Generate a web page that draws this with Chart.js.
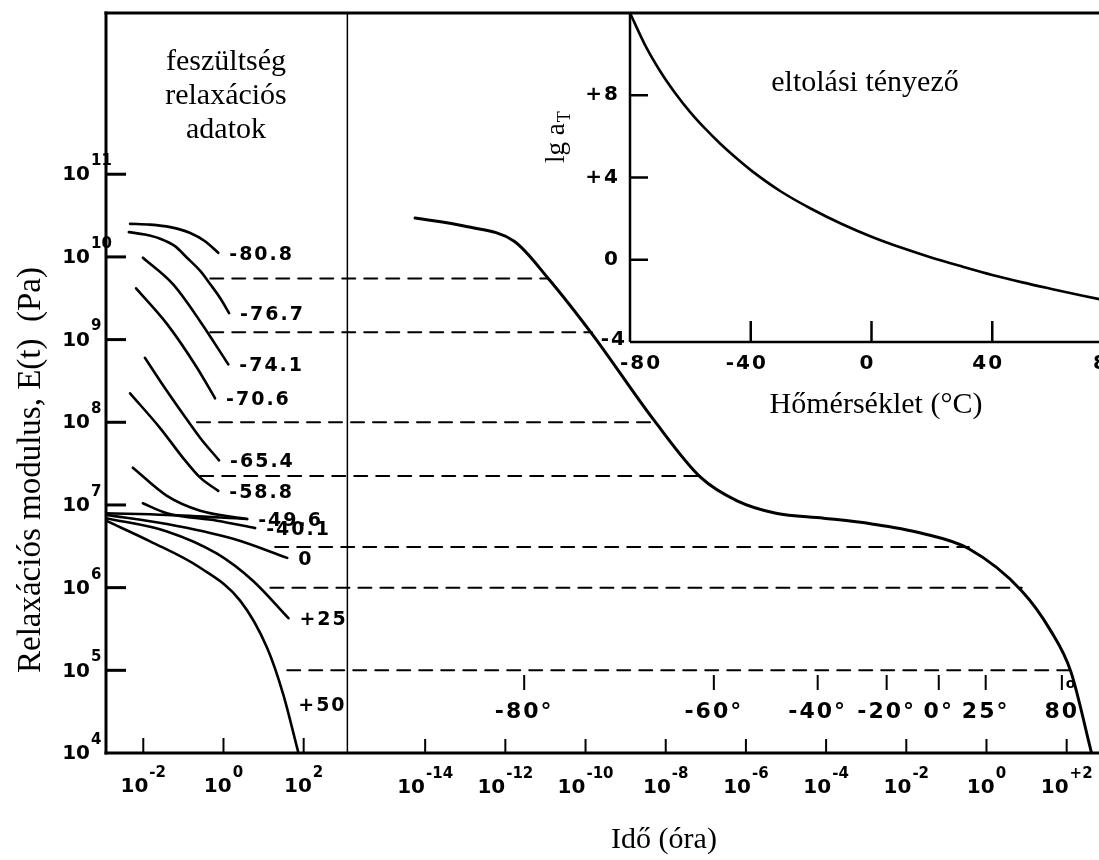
<!DOCTYPE html>
<html>
<head>
<meta charset="utf-8">
<title>Feszültség relaxáció - mestergörbe</title>
<script src="https://cdn.jsdelivr.net/npm/chart.js@4.4.0/dist/chart.umd.min.js"></script>
<style>
    html, body {
        margin: 0;
        padding: 0;
        width: 1099px;
        height: 860px;
        overflow: hidden;
        background: #fff;
    }
    #main { position: absolute; left: 0; top: 0; }
    #inset { position: absolute; left: 500px; top: 0; }
</style>
</head>
<body>
<canvas id="main" width="1130" height="860"></canvas>
<canvas id="inset" width="640" height="440"></canvas>
<script>

// left panel: measured relaxation curves, [lg t, lg E]
var curveNames = ['-80.8', '-76.7', '-74.1', '-70.6', '-65.4', '-58.8', '-49.6', '-40.1', '', '0', '+25', '+50'];
var c_m808 = [[-2.33, 10.40], [-1.83, 10.39], [-1.33, 10.36], [-0.83, 10.29], [-0.46, 10.19], [-0.13, 10.05]];
var c_m767 = [[-2.36, 10.30], [-1.96, 10.27], [-1.58, 10.22], [-1.21, 10.13], [-0.91, 9.99], [-0.58, 9.83], [-0.33, 9.67], [-0.08, 9.50], [0.14, 9.32]];
var c_m741 = [[-2.01, 9.99], [-1.26, 9.67], [-0.58, 9.22], [0.12, 8.70]];
var c_m706 = [[-2.18, 9.62], [-1.41, 9.19], [-0.66, 8.66], [-0.21, 8.29]];
var c_m654 = [[-1.96, 8.78], [-1.58, 8.50], [-1.01, 8.10], [-0.58, 7.81], [-0.11, 7.54]];
var c_m588 = [[-2.33, 8.35], [-1.58, 7.93], [-1.01, 7.57], [-0.58, 7.33], [-0.13, 7.17]];
var c_m496 = [[-2.26, 7.45], [-1.41, 7.11], [-0.58, 6.93], [0.59, 6.83]];
var c_m401 = [[-2.01, 7.02], [-1.41, 6.90], [-0.16, 6.81], [0.79, 6.72]];
var c_flat = [[-2.93, 6.90], [-1.41, 6.88], [0.59, 6.83]];
var c_p0 = [[-2.93, 6.88], [-1.41, 6.77], [0.24, 6.59], [1.59, 6.36]];
var c_p25 = [[-2.93, 6.84], [-1.41, 6.68], [-0.16, 6.41], [0.74, 6.08], [1.62, 5.63]];
var c_p50 = [[-2.93, 6.81], [-1.83, 6.56], [-0.58, 6.24], [0.42, 5.84], [1.09, 5.27], [1.49, 4.71], [1.87, 4.00]];
var relaxCurves = [c_m808, c_m767, c_m741, c_m706, c_m654, c_m588, c_m496, c_m401, c_flat, c_p0, c_p25, c_p50];

// right panel: master curve
var masterLgT = [-14.25, -13.00, -11.78, -10.93, -9.84, -8.27, -7.12, -6.22, -5.25, -4.06, -2.86, -1.64, -0.44, 0.88, 1.60, 2.10, 2.62];
var masterLgE = [10.47, 10.37, 10.19, 9.74, 9.07, 8.01, 7.33, 7.05, 6.90, 6.84, 6.77, 6.66, 6.47, 5.96, 5.48, 4.99, 4.00];

// dashed shift lines: lg E, start (left panel lg t), end (right panel lg t)
var dashLgE = [9.74, 9.09, 8.00, 7.35, 6.49, 6.00, 5.00];
var dashFromLgT = [-0.33, -0.33, -0.66, -0.58, 1.29, 1.17, 1.59];
var dashToLgT = [-10.93, -9.84, -8.27, -7.12, -0.44, 0.88, 2.10];

// temperature marks on the master curve time axis
var markLabels = ['-80°', '-60°', '-40°', '-20°', '0°', '25°', '80'];
var markLgT = [-11.53, -6.80, -4.21, -2.49, -1.19, -0.02, 1.88];

// inset: shift factor
var shiftT = [-80, -75, -70, -65, -60, -55, -50, -45, -40, -30, -20, -10, 0, 10, 20, 30, 40, 50, 60, 70, 80];
var shiftLgA = [12.0, 10.44, 9.17, 8.10, 7.17, 6.36, 5.63, 4.97, 4.36, 3.32, 2.48, 1.75, 1.12, 0.58, 0.1, -0.33, -0.74, -1.1, -1.43, -1.75, -2.05];

// ticks
var yTickExp = [4, 5, 6, 7, 8, 9, 10, 11];
var leftTickExp = [-2, 0, 2];
var leftTickLabels = ['-2', '0', '2'];
var rightTickExp = [-14, -12, -10, -8, -6, -4, -2, 0, 2];
var rightTickLabels = ['-14', '-12', '-10', '-8', '-6', '-4', '-2', '0', '+2'];
var insetXTicks = [-80, -40, 0, 40, 80];
var insetXLabels = ['-80', '-40', '0', '40', '80'];
var insetYTicks = [8, 4, 0, -4];
var insetYLabels = ['+8', '+4', '0', '-4'];

// axis ranges (decades); both panels share the same decade width
var LEFT_MIN = -2.93, LEFT_DIV = 3.09, RIGHT_DIV = -15.94, SPAN = 25.29;
var E_MIN = 4, E_MAX = 12.95;

var SANS = '"DejaVu Sans"';
var SERIF = '"Liberation Serif"';

function pow10(v) {
    return Math.pow(10, v);
}

function toPoints(pairs) {
    return pairs.map(function (p) {
        return {x: pow10(p[0]), y: pow10(p[1])};
    });
}

function line(ctx, x1, y1, x2, y2, w) {
    ctx.lineWidth = w;
    ctx.beginPath();
    ctx.moveTo(x1, y1);
    ctx.lineTo(x2, y2);
    ctx.stroke();
}

// "10" with a raised exponent; x0 = left edge of the "10"
function powText(ctx, x0, cy, exp) {
    ctx.textAlign = 'left';
    ctx.textBaseline = 'middle';
    ctx.font = 'bold 20px ' + SANS;
    var wb = ctx.measureText('10').width;
    ctx.fillText('10', x0, cy);
    ctx.font = 'bold 15px ' + SANS;
    ctx.fillText(exp, x0 + wb + 1, cy - 14);
}

function powWidth(ctx, exp) {
    ctx.font = 'bold 20px ' + SANS;
    var wb = ctx.measureText('10').width;
    ctx.font = 'bold 15px ' + SANS;
    return wb + 1 + ctx.measureText(exp).width;
}

var mainFrame = {
    id: 'mainFrame',
    afterDraw: function (chart) {
        var ctx = chart.ctx;
        var a = chart.chartArea;
        var xL = chart.scales.xL, xR = chart.scales.xR, y = chart.scales.y;
        ctx.save();
        ctx.strokeStyle = '#000';
        ctx.fillStyle = '#000';
        ctx.lineCap = 'square';

        line(ctx, a.left, a.top, a.right + 20, a.top, 3);
        line(ctx, a.left, a.top, a.left, a.bottom, 3);
        line(ctx, a.left, a.bottom, a.right + 20, a.bottom, 3);
        var xd = xL.getPixelForValue(pow10(LEFT_DIV));
        line(ctx, xd, a.top, xd, a.bottom, 1.5);

        ctx.lineCap = 'butt';
        yTickExp.forEach(function (e) {
            var py = y.getPixelForValue(pow10(e));
            if (e > E_MIN) line(ctx, a.left, py, a.left + 20, py, 3);
            ctx.font = 'bold 20px ' + SANS;
            powText(ctx, a.left - 16 - ctx.measureText('10').width, py + 1, String(e));
        });

        leftTickExp.forEach(function (e, i) {
            var px = xL.getPixelForValue(pow10(e));
            line(ctx, px, a.bottom, px, a.bottom - 15, 2);
            var s = leftTickLabels[i];
            powText(ctx, px - powWidth(ctx, s) / 2, a.bottom + 34, s);
        });
        rightTickExp.forEach(function (e, i) {
            var px = xR.getPixelForValue(pow10(e));
            line(ctx, px, a.bottom, px, a.bottom - 14, 2);
            var s = rightTickLabels[i];
            powText(ctx, px - powWidth(ctx, s) / 2, a.bottom + 35, s);
        });

        // temperature marks
        ctx.letterSpacing = '2px';
        markLgT.forEach(function (v, i) {
            var px = xR.getPixelForValue(pow10(v));
            line(ctx, px, a.bottom - 78, px, a.bottom - 63, 2);
            ctx.font = 'bold 22px ' + SANS;
            ctx.textAlign = 'center';
            ctx.textBaseline = 'middle';
            ctx.fillText(markLabels[i], px, a.bottom - 41);
            if (markLabels[i].indexOf('°') < 0) {
                ctx.font = 'bold 14px ' + SANS;
                ctx.textAlign = 'left';
                ctx.fillText('o', px + 4, a.bottom - 69);
            }
        });

        // curve labels
        ctx.font = 'bold 19px ' + SANS;
        ctx.textAlign = 'left';
        ctx.textBaseline = 'middle';
        chart.data.datasets.forEach(function (ds, i) {
            if (!ds.label) return;
            var pts = chart.getDatasetMeta(i).data;
            var p = pts[pts.length - 1];
            if (ds.label === '+50') {
                p = pts[pts.length - 2];
                ctx.fillText(ds.label, p.x + 15, p.y + 12);
            } else {
                ctx.fillText(ds.label, p.x + 11, p.y + 2);
            }
        });
        ctx.letterSpacing = '0px';

        // titles
        ctx.font = '30px ' + SERIF;
        ctx.textAlign = 'center';
        ctx.textBaseline = 'alphabetic';
        ctx.fillText('feszültség', 226, 70);
        ctx.fillText('relaxációs', 226, 104);
        ctx.fillText('adatok', 226, 138);
        ctx.fillText('Idő (óra)', 664, 848);

        ctx.font = '33px ' + SERIF;
        ctx.translate(40, 470);
        ctx.rotate(-Math.PI / 2);
        ctx.fillText('Relaxációs modulus, E(t)  (Pa)', 0, 0);
        ctx.restore();
    }
};

var datasets = [];
dashLgE.forEach(function (e, i) {
    datasets.push({
        xAxisID: 'xR',
        data: [
            {x: pow10(dashFromLgT[i] - LEFT_DIV + RIGHT_DIV), y: pow10(e)},
            {x: pow10(dashToLgT[i]), y: pow10(e)}
        ],
        borderColor: '#000',
        borderWidth: 2,
        borderDash: [13, 9]
    });
});
relaxCurves.forEach(function (c, i) {
    datasets.push({
        xAxisID: 'xL',
        label: curveNames[i],
        data: toPoints(c),
        borderColor: '#000',
        borderWidth: 2.6,
        cubicInterpolationMode: 'monotone'
    });
});
datasets.push({
    xAxisID: 'xR',
    data: masterLgT.map(function (t, i) {
        return {x: pow10(t), y: pow10(masterLgE[i])};
    }),
    borderColor: '#000',
    borderWidth: 3,
    cubicInterpolationMode: 'monotone'
});

var rightMin = RIGHT_DIV - (LEFT_DIV - LEFT_MIN);

new Chart(document.getElementById('main').getContext('2d'), {
    type: 'line',
    data: {datasets: datasets},
    options: {
        responsive: false,
        animation: false,
        events: [],
        layout: {padding: {left: 106, top: 13, right: 10, bottom: 107}},
        elements: {point: {radius: 0}, line: {fill: false, borderCapStyle: 'round'}},
        plugins: {legend: {display: false}, tooltip: {enabled: false}, colors: {enabled: false}},
        scales: {
            xL: {type: 'logarithmic', display: false, bounds: 'data', min: pow10(LEFT_MIN), max: pow10(LEFT_MIN + SPAN)},
            xR: {type: 'logarithmic', display: false, bounds: 'data', min: pow10(rightMin), max: pow10(rightMin + SPAN)},
            y: {type: 'logarithmic', display: false, bounds: 'data', min: pow10(E_MIN), max: pow10(E_MAX)}
        }
    },
    plugins: [mainFrame]
});

// inset chart (shift factor)
var insetFrame = {
    id: 'insetFrame',
    afterDraw: function (chart) {
        var ctx = chart.ctx;
        var a = chart.chartArea;
        var x = chart.scales.x, y = chart.scales.y;
        ctx.save();
        ctx.strokeStyle = '#000';
        ctx.fillStyle = '#000';
        line(ctx, a.left, a.top, a.left, a.bottom, 2.5);
        line(ctx, a.left, a.bottom, chart.width, a.bottom, 2.5);

        ctx.font = 'bold 20px ' + SANS;
        ctx.letterSpacing = '2px';
        ctx.textBaseline = 'middle';
        ctx.textAlign = 'right';
        insetYTicks.forEach(function (v, i) {
            var py = y.getPixelForValue(v);
            if (v > -4) {
                line(ctx, a.left, py, a.left + 18, py, 2.5);
                ctx.fillText(insetYLabels[i], a.left - 10, py);
            } else {
                ctx.fillText(insetYLabels[i], a.left - 3, py - 2);
            }
        });
        ctx.textAlign = 'center';
        insetXTicks.forEach(function (v, i) {
            var px = x.getPixelForValue(v);
            if (v > -80) {
                line(ctx, px, a.bottom, px, a.bottom - 21, 2.5);
                ctx.fillText(insetXLabels[i], px - 4, a.bottom + 22);
            } else {
                ctx.fillText(insetXLabels[i], px + 11, a.bottom + 22);
            }
        });
        ctx.letterSpacing = '0px';

        ctx.font = '30px ' + SERIF;
        ctx.textBaseline = 'alphabetic';
        ctx.fillText('eltolási tényező', 365, 91);
        ctx.fillText('Hőmérséklet (°C)', 376, 413);

        ctx.translate(64, 163);
        ctx.rotate(-Math.PI / 2);
        ctx.textAlign = 'left';
        ctx.font = '27px ' + SERIF;
        ctx.fillText('lg a', 0, 0);
        var w = ctx.measureText('lg a').width;
        ctx.font = '18px ' + SERIF;
        ctx.fillText('T', w + 1, 6);
        ctx.restore();
    }
};

new Chart(document.getElementById('inset').getContext('2d'), {
    type: 'line',
    data: {
        datasets: [{
            data: shiftT.map(function (t, i) {
                return {x: t, y: shiftLgA[i]};
            }),
            borderColor: '#000',
            borderWidth: 2.6,
            cubicInterpolationMode: 'monotone'
        }]
    },
    options: {
        responsive: false,
        animation: false,
        events: [],
        layout: {padding: {left: 130, top: 13, right: 27, bottom: 98}},
        elements: {point: {radius: 0}, line: {fill: false}},
        plugins: {legend: {display: false}, tooltip: {enabled: false}, colors: {enabled: false}},
        scales: {
            x: {type: 'linear', display: false, min: -80, max: 80},
            y: {type: 'linear', display: false, min: -4, max: 12}
        }
    },
    plugins: [insetFrame]
});
</script>
</body>
</html>
